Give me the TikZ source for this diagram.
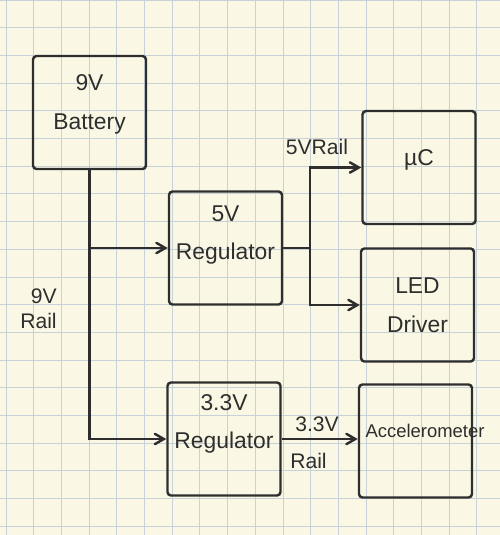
\documentclass[tikz,border=0pt]{standalone}
\usepackage{fontspec}
\setmainfont{Liberation Sans}
\usepackage{tikz}
\usetikzlibrary{arrows}
\definecolor{paper}{HTML}{FAF8E4}
\definecolor{gridblue}{HTML}{C6D2D8}
\definecolor{ink}{HTML}{2E2E2E}

\begin{document}
\begin{tikzpicture}[->,>=angle 60,
  ink line/.style={draw=ink,line width=1.4pt},
  main node/.style={rectangle,draw=ink,line width=1.4pt,rounded corners=2pt,
    minimum width=2.26cm,minimum height=2.26cm,align=center,text=ink,
    font=\fontsize{13}{22}\selectfont},
  rail label/.style={font=\fontsize{12}{14}\selectfont,text=ink,align=center}]
  \useasboundingbox (0,0) rectangle (10,-10.7);
  \fill[-,paper] (0,0) rectangle (10,-10.7);
  \begin{scope}
    \clip (0,0) rectangle (10,-10.7);
    \draw[-,gridblue,line width=0.5pt,shift={(0.12,0)},step=0.554] (-0.6,-11) grid (10.2,0.6);
  \end{scope}

  \node[main node,text depth=0.43cm] (1) at (1.79,-2.25) {9V\\Battery};
  \node[main node,text depth=0.62cm] (2) at (4.51,-4.96) {5V\\Regulator};
  \node[main node,text depth=0.4cm] (3) at (8.38,-3.35) {µC};
  \node[main node] (4) at (8.35,-6.10) {LED\\Driver};
  \node[main node,text depth=0.7cm] (5) at (4.48,-8.78) {3.3V\\Regulator};
  \node[main node,text depth=0.4cm,text width=2cm,align=left,
    font=\fontsize{10.5}{13}\selectfont] (6) at (8.31,-8.82) {Accelerometer};
  \coordinate (7) at ([xshift=5.4mm]2.east);

  \node[rail label] (r5) at (6.34,-2.94) {5VRail};
  \node[rail label,align=right] (r9) at (0.77,-6.18) {9V\\Rail};
  \node[rail label] (r33) at (6.34,-8.48) {3.3V};
  \node[rail label] (r33b) at (6.17,-9.22) {Rail};

  \draw[ink line] (1.south) |- (2.west);
  \draw[ink line] (1.south) |- (5.west);
  \draw[ink line,-] (2.east) -- (7);
  \draw[ink line] (7) |- (3.west);
  \draw[ink line] (7) |- (4.west);
  \draw[ink line] (5.east) -- (5.east -| 6.west);
\end{tikzpicture}
\end{document}
